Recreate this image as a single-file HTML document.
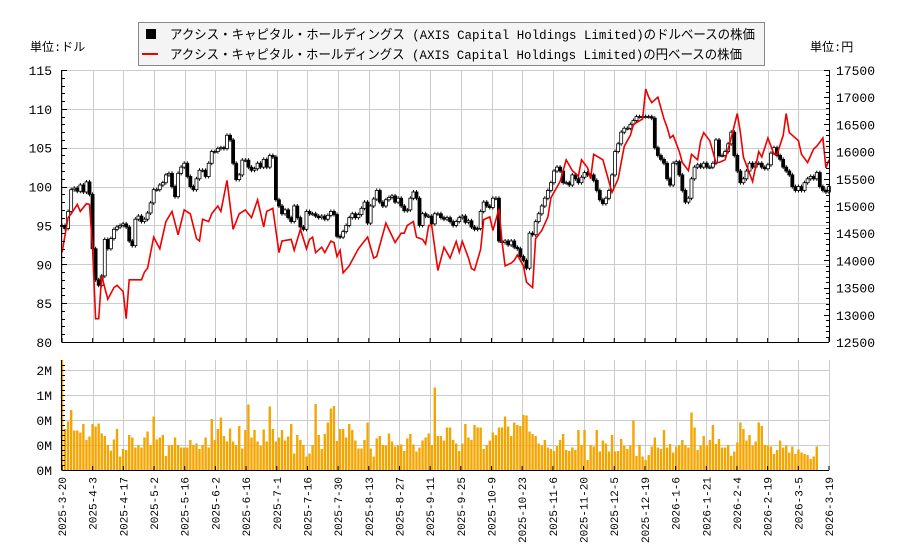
<!DOCTYPE html>
<html><head><meta charset="utf-8">
<style>
body{margin:0;background:#fff;}
svg{display:block;font-family:"Liberation Mono","Noto Sans CJK JP",monospace;}
</style></head>
<body>
<svg id="chart" width="900" height="550" viewBox="0 0 900 550" xmlns="http://www.w3.org/2000/svg">
<rect width="900" height="550" fill="#fff"/>
<g id="grid"></g>
<g id="vol"></g>
<g id="candles"></g>
<g id="yenline"></g>
<g id="axes"></g>
<g>
<rect x="138.5" y="22.5" width="626" height="43" fill="#f4f4f4" stroke="#888"/>
<rect x="146" y="29" width="10" height="10" fill="#000"/>
<text x="170" y="39" font-size="13" textLength="585" lengthAdjust="spacingAndGlyphs">アクシス・キャピタル・ホールディングス (AXIS Capital Holdings Limited)のドルベースの株価</text>
<line x1="142" y1="54" x2="158" y2="54" stroke="#e00" stroke-width="2"/>
<text x="170" y="59" font-size="13" textLength="572" lengthAdjust="spacingAndGlyphs">アクシス・キャピタル・ホールディングス (AXIS Capital Holdings Limited)の円ベースの株価</text>
</g>
<text x="30" y="51" font-size="12">単位:ドル</text>
<text x="810" y="51" font-size="12">単位:円</text>
</svg>
<script>
const closes=[95,94.6,96.8,99.6,99.8,99.4,100.2,99.3,100.6,99.0,
92,88,87.3,88.5,93.2,92,93.3,94.5,94.8,95.0,
95.2,94.8,93,92.4,95.8,96.2,95.5,95.8,96.6,97.9,
99.6,99.6,100.2,100.5,101.5,101.7,100.0,98.7,101.7,102.5,
103,101.3,100,99.6,101,102.1,102.1,101.3,103,104.5,104.5,
104.9,105,104.9,106.6,106,103,100.9,101.5,103.4,
103.4,102.5,102.1,102.3,103,102.5,103.5,102.5,104,103.8,
98.3,97.5,96.5,97,96,95.5,97.5,96,94.8,94.5,
96.8,96.5,96.5,96.2,96.0,96.2,95.8,96.3,96.8,96.4,
93.6,93.5,94.2,95.0,96.0,96.5,96.0,96.4,97.2,98.0,
95.3,97.5,98.4,99.5,98.0,97.5,98.3,98.6,98.8,98.0,
98.5,97.5,96.9,97.0,98.5,99.3,98.5,95.0,96.5,96.2,
96.2,95.2,96.5,96.5,96.0,95.8,96,95.5,95.0,95.5,96,96.2,95.4,95.6,
94.8,94.5,94.6,96.8,98,97.5,97.3,98.5,98.5,
93.0,92.8,93.0,92.5,93.0,92.2,92.0,91.0,90.5,89.5,
94.0,93.8,95.5,96.5,97.5,98.5,99.5,100.5,102.0,102.5,
102.0,100.5,100.5,100.2,101.5,101.0,100.5,101.2,101.8,101.5,
101.5,100.8,99.5,98.3,97.8,98.5,99.5,101.5,104.5,105.5,
107.0,107.5,107.5,108.0,108.5,109,109,109,109,109,108.8,
105,104,103.5,103,101,100.2,103,103.2,101.5,
99.5,98.0,98.5,101,102.5,102.8,102.5,103,102.5,102.5,
103,106,104,104,104.5,105.5,107,104,102,100.5,
101,102,103,102.5,103,103,102.5,102.3,102.8,104.3,
105,104,103.5,102.5,102,101.5,100,99.5,100,99.5,
100.5,101,101.3,101,101.8,100,99.5,99.3,100];
const yenDay=[0,2,3,5,6,8,9,10,11,12,13,15,17,18,20,21,22,26,27,28,30,32,34,36,38,40,42,44,45,46,48,49,51,52,54,56,58,60,62,64,66,67,69,71,72,75,76,78,80,81,82,83,85,86,88,89,90,91,92,94,97,98,100,102,103,106,109,111,112,113,115,116,118,119,120,121,123,125,127,129,130,131,133,134,135,137,138,140,141,143,144,145,147,148,149,151,152,154,155,157,159,160,163,165,167,169,170,172,173,174,177,178,180,182,183,184,186,187,190,191,192,193,195,197,198,199,200,202,203,205,206,208,209,210,212,214,215,217,219,221,222,223,225,226,228,229,231,233,234,236,237,238,241,242,244,246,247,249,250,251];
const yenVal=[14143,14786,14857,15029,14900,15043,15029,14214,12929,12929,13714,13286,13500,13543,13429,12929,13643,13643,13786,13857,14429,14214,14714,14900,14471,14929,14857,14400,14357,14757,14714,14857,15000,14900,15471,14571,14857,14929,14786,15114,14614,14900,14957,14143,14357,14386,14186,14571,14214,14386,14429,14143,14243,14143,14357,14329,14071,14186,13771,13900,14214,14286,14429,14043,14071,14686,14329,14500,14500,14643,14714,14429,14386,14300,14643,14643,13814,14243,14043,14350,14150,14350,14050,13850,13820,14200,14750,14800,14550,14950,14350,13900,13950,14000,14100,13900,13600,13500,14400,14550,14800,15150,15450,15850,15650,15550,15850,15700,15500,15950,15850,15650,15250,15500,15800,16100,16300,16500,16600,17150,17000,16900,17000,16600,16450,16250,16300,16000,15800,15650,15950,15850,16200,16350,16200,15800,15800,15850,16250,16700,16350,15900,15600,15450,16000,15900,16250,15950,15950,16300,16700,16350,16200,15950,15800,16050,16100,16250,15700,15850];
const volumes=[2.3,0.82,0.97,1.2,0.79,0.79,0.75,0.92,0.6,0.67,0.92,0.87,0.93,0.73,0.68,0.5,0.39,0.61,0.82,0.27,0.42,0.4,0.7,0.65,0.45,0.5,0.45,0.65,0.77,0.5,1.07,0.61,0.65,0.7,0.28,0.49,0.5,0.65,0.5,0.45,0.45,0.45,0.6,0.5,0.53,0.42,0.5,0.65,0.45,1.02,0.6,0.82,1.05,0.68,0.57,0.83,0.57,0.5,0.88,0.43,0.8,1.31,0.65,0.8,0.57,0.48,0.81,0.57,1.27,0.82,0.57,0.65,0.8,0.59,0.67,0.92,0.33,0.7,0.6,0.5,0.27,0.33,0.5,1.32,0.7,0.42,0.72,0.95,1.23,1.28,0.58,0.82,0.82,0.65,0.92,0.8,0.59,0.43,0.43,0.6,0.95,0.43,0.27,0.63,0.68,0.5,0.49,0.73,0.57,0.47,0.5,0.51,0.38,0.63,0.72,0.51,0.37,0.45,0.59,0.65,0.73,0.5,1.65,0.68,
0.68,0.59,0.85,0.85,0.6,0.53,0.38,0.53,0.92,0.65,0.6,0.9,0.85,0.85,0.42,0.5,0.59,0.75,0.7,0.85,0.85,1.07,0.87,0.68,0.95,0.9,0.88,1.1,1.09,0.77,0.72,0.68,0.53,0.49,0.6,0.45,0.42,0.38,0.48,0.6,0.72,0.4,0.38,0.45,0.4,0.8,0.5,0.8,0.2,0.5,0.47,0.8,0.37,0.59,0.53,0.37,0.7,0.37,0.38,0.62,0.48,0.42,0.49,0.99,0.28,0.5,0.27,0.2,0.3,0.47,0.65,0.45,0.42,0.8,0.45,0.52,0.35,0.47,0.5,0.6,0.5,0.45,1.15,0.85,0.4,0.49,0.68,0.49,0.6,0.9,0.52,0.62,0.45,0.45,0.5,0.28,0.37,0.55,0.95,0.82,0.59,0.7,0.49,0.57,0.95,0.88,0.5,0.49,0.47,0.32,0.4,0.59,0.45,0.49,0.35,0.47,0.32,0.41,0.35,0.32,0.3,0.22,0.27,0.47];
const dateLabels=["2025-3-20","2025-4-3","2025-4-17","2025-5-2","2025-5-16","2025-6-2","2025-6-16","2025-7-1","2025-7-16","2025-7-30","2025-8-13","2025-8-27","2025-9-11","2025-9-25","2025-10-9","2025-10-23","2025-11-6","2025-11-20","2025-12-5","2025-12-19","2026-1-6","2026-1-21","2026-2-4","2026-2-19","2026-3-5","2026-3-19"];
const usdTicks=[80,85,90,95,100,105,110,115];
const yenTicks=[12500,13000,13500,14000,14500,15000,15500,16000,16500,17000,17500];
const volTicks=[0,0.5,1,1.5,2];
const volTickLabels=["0M","0M","0M","1M","2M"];

const NS="http://www.w3.org/2000/svg";
const X0=62,X1=829,Y0=70,Y1=342,VY0=360,VY1=470;
const N=closes.length;
const xd=i=>X0+i*(X1-X0)/(N-1);
const yP=p=>Y0+(115-p)*(Y1-Y0)/35;
const yY=v=>Y0+(17500-v)*(Y1-Y0)/5000;
const yV=v=>VY1-v*(VY1-VY0)/2.2;
function mk(tag,attrs,parent){const e=document.createElementNS(NS,tag);for(const k in attrs)e.setAttribute(k,attrs[k]);parent.appendChild(e);return e;}
const G=id=>document.getElementById(id);

const grid=G('grid');
dateLabels.forEach((d,k)=>{const x=Math.round(X0+k*(X1-X0)/(dateLabels.length-1))+0.5;
 const l1=mk('line',{x1:x,y1:Y0,x2:x,y2:Y1,stroke:'#ccc'},grid);
 
 const l2=mk('line',{x1:x,y1:VY0,x2:x,y2:VY1,stroke:'#ccc'},grid);
 });
usdTicks.forEach(t=>{const y=Math.round(yP(t))+0.5;const l=mk('line',{x1:X0,y1:y,x2:X1,y2:y,stroke:'#ccc'},grid);
 });
volTicks.forEach(t=>{const y=Math.round(yV(t))+0.5;const l=mk('line',{x1:X0,y1:y,x2:X1,y2:y,stroke:'#ccc'},grid);
 });

const vol=G('vol');
for(let i=0;i<N&&i<volumes.length;i++){const x=xd(i),y=yV(Math.min(volumes[i],2.2));
 const r=mk('rect',{x:x-1.2,y:y,width:2.4,height:VY1-y,fill:'#f5a500'},vol);
 }

const cg=G('candles');
for(let i=0;i<N;i++){const o=i>0?closes[i-1]:closes[0],c=closes[i];const x=xd(i);
 const top=yP(Math.max(o,c)),bot=yP(Math.min(o,c));const up=c>=o;
 const w=mk('line',{x1:x,y1:top-2,x2:x,y2:bot+2,stroke:'#000'},cg);
 
 const r=mk('rect',{x:x-1.5,y:top,width:3,height:Math.max(bot-top,1),fill:up?'#fff':'#000',stroke:'#000','stroke-width':0.8},cg);
 }

const pts=yenDay.map((d,k)=>xd(d).toFixed(1)+','+yY(yenVal[k]).toFixed(1)).join(' ');
const pl=mk('polyline',{points:pts,fill:'none',stroke:'#e00','stroke-width':1.6},G('yenline'));


const ax=G('axes');
[[X0-0.5,Y0,X0-0.5,Y1],[X0-0.5,Y1+0.5,X1,Y1+0.5],[X1+0.5,Y0,X1+0.5,Y1],[X0-0.5,VY0,X0-0.5,VY1],[X0-0.5,VY1+0.5,X1,VY1+0.5]].forEach(a=>{
 const l=mk('line',{x1:a[0],y1:a[1],x2:a[2],y2:a[3],stroke:'#000'},ax);
 });
for(let p=80;p<=115;p++){const y=Math.round(yP(p))+0.5;mk('line',{x1:X0,y1:y,x2:X0+(p%5?3:5),y2:y,stroke:'#000'},ax);}
for(let v=12500;v<=17500;v+=100){const y=Math.round(yY(v))+0.5;mk('line',{x1:X1,y1:y,x2:X1-(v%500?3:5),y2:y,stroke:'#000'},ax);}
for(let v=0;v<=2.2;v+=0.1){const y=Math.round(yV(v))+0.5;mk('line',{x1:X0,y1:y,x2:X0+3,y2:y,stroke:'#000'},ax);}
usdTicks.forEach(t=>{const e=mk('text',{x:52,y:yP(t)+5,'text-anchor':'end','font-size':13,fill:'#000'},ax);e.textContent=t;
 });
yenTicks.forEach(t=>{const e=mk('text',{x:836,y:yY(t)+5,'font-size':13,fill:'#000'},ax);e.textContent=t;
 });
volTicks.forEach((t,k)=>{const e=mk('text',{x:52,y:yV(t)+5,'text-anchor':'end','font-size':13,fill:'#000'},ax);e.textContent=volTickLabels[k];
 });
dateLabels.forEach((d,k)=>{const x=X0+k*(X1-X0)/(dateLabels.length-1);
 mk('line',{x1:x,y1:Y1,x2:x,y2:Y1-4,stroke:'#000'},ax);mk('line',{x1:x,y1:VY1,x2:x,y2:VY1-4,stroke:'#000'},ax);
 const e=mk('text',{x:0,y:0,'text-anchor':'end','font-size':11,fill:'#000',transform:`translate(${x+4},477) rotate(-90)`},ax);e.textContent=d;
 });
</script>
</body></html>
